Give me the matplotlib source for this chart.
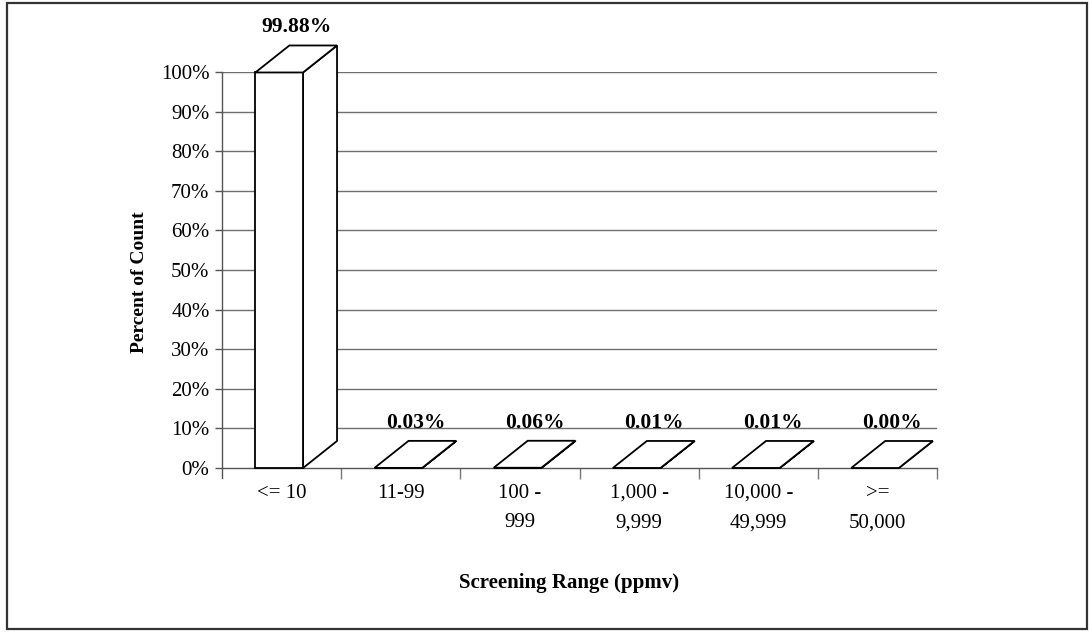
import matplotlib
matplotlib.use("Agg")
import matplotlib.pyplot as plt
from matplotlib.patches import Polygon, Rectangle

categories = ["<= 10", "11-99", "100 -\n999", "1,000 -\n9,999", "10,000 -\n49,999", ">=\n50,000"]
values = [99.88, 0.03, 0.06, 0.01, 0.01, 0.00]
labels = ["99.88%", "0.03%", "0.06%", "0.01%", "0.01%", "0.00%"]
yticks = [0, 10, 20, 30, 40, 50, 60, 70, 80, 90, 100]

plt.rcParams['font.family'] = ['Liberation Serif', 'DejaVu Serif']

W, H = 1091, 632
fig = plt.figure(figsize=(W / 100, H / 100), dpi=100)

# frame
fig.patches.append(Rectangle((7 / W, 3 / H), (1087 - 7) / W, (629 - 3) / H,
                             transform=fig.transFigure, fill=False,
                             edgecolor='#333333', linewidth=1.6, zorder=0))

x0, x1, y0, y1 = 222, 937, 468, 72
ax = fig.add_axes([x0 / W, 1 - y0 / H, (x1 - x0) / W, (y0 - y1) / H])
ax.set_xlim(0, len(categories))
ax.set_ylim(0, 100)

for s in ['top', 'right']:
    ax.spines[s].set_visible(False)
ax.spines['left'].set_color('#555555')
ax.spines['bottom'].set_color('#555555')
ax.spines['left'].set_linewidth(1.0)
ax.spines['bottom'].set_linewidth(1.0)
ax.spines['left'].set_bounds(-2.5, 100)

for yv in yticks[1:]:
    ax.axhline(yv, color='#6e6e6e', linewidth=1.0, zorder=1)

ax.set_yticks(yticks)
ax.set_yticklabels([f"{v}%" for v in yticks], fontsize=15)
ax.tick_params(axis='y', length=5, width=1, color='#555555', pad=4)

ax.set_xticks(range(1, len(categories) + 1))
ax.set_xticklabels([''] * len(categories))
ax.tick_params(axis='x', length=8, width=1, color='#777777')
for i, c in enumerate(categories):
    ax.text(i + 0.5, -4.0, c, ha='center', va='top', fontsize=15,
            linespacing=1.75, clip_on=False)

# 3D bars
cw = (x1 - x0) / len(categories)
ppu = (y0 - y1) / 100.0
dx = 34 / cw
dy = 27 / ppu
left_off = 0.28
bw = 0.40
for i, v in enumerate(values):
    L = i + left_off
    R = L + bw
    front = Polygon([(L, 0), (R, 0), (R, v), (L, v)], closed=True,
                    facecolor='white', edgecolor='black', linewidth=1.3,
                    zorder=3, clip_on=False)
    side = Polygon([(R, 0), (R + dx, dy), (R + dx, v + dy), (R, v)], closed=True,
                   facecolor='white', edgecolor='black', linewidth=1.3,
                   zorder=3, clip_on=False)
    top = Polygon([(L, v), (R, v), (R + dx, v + dy), (L + dx, v + dy)], closed=True,
                  facecolor='white', edgecolor='black', linewidth=1.3,
                  zorder=4, clip_on=False)
    ax.add_patch(side)
    ax.add_patch(front)
    ax.add_patch(top)
    ax.text((L + R + dx) / 2, v + dy + 18 / ppu, labels[i], ha='center',
            va='center', fontsize=15.5, fontweight='bold', clip_on=False)

fig.text(139 / W, 1 - 282 / H, "Percent of Count", rotation=90, ha='center',
         va='center', fontsize=14, fontweight='bold')
fig.text(569 / W, 1 - 583 / H, "Screening Range (ppmv)", ha='center',
         va='center', fontsize=15, fontweight='bold')

fig.savefig("out.png", dpi=100)
